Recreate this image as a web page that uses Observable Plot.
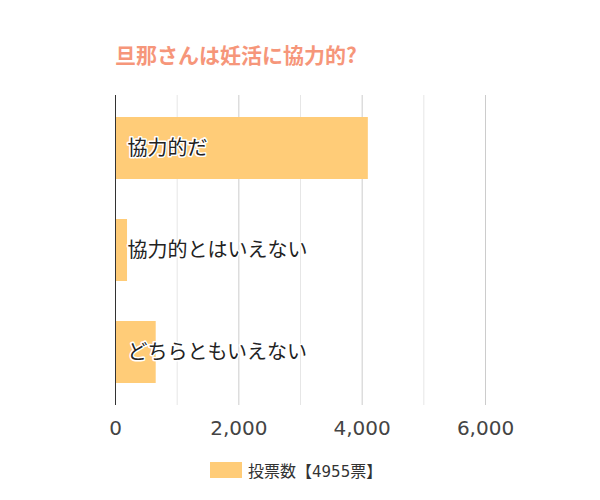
<!DOCTYPE html>
<html><head><meta charset="utf-8">
<script src="https://cdn.jsdelivr.net/npm/d3@7"></script>
<script src="https://cdn.jsdelivr.net/npm/@observablehq/plot@0.6"></script>
<style>
body{margin:0;background:#fff;font-family:"Noto Sans CJK JP",sans-serif;}
#wrap{position:relative;width:600px;height:500px;}
#chart{position:absolute;left:0;top:0;}
#title{position:absolute;left:115px;top:40px;font-size:21px;font-weight:bold;color:#f6967a;white-space:nowrap;line-height:28px;}
#legend{position:absolute;left:210px;top:458px;display:flex;align-items:center;font-size:16px;color:#333;white-space:nowrap;font-family:"Noto Sans CJK JP",sans-serif;}
#legend .sw{width:32px;height:16px;background:#ffcc78;margin-right:6px;}
#legend .num{font-family:"DejaVu Sans",sans-serif;font-size:15px;}
</style></head>
<body>
<div id="wrap">
  <div id="chart"></div>
  <div id="title">旦那さんは妊活に協力的?</div>
  <div id="legend"><span class="sw"></span><span>投票数【<span class="num">4955</span>票】</span></div>
</div>
<script>
const categories = ["協力的だ", "協力的とはいえない", "どちらともいえない"];
const values = [4100, 195, 660];
const xTicks = [0, 2000, 4000, 6000];
const minorTicks = [1000, 3000, 5000];
const majorTicks = [2000, 4000, 6000];

const data = categories.map((c, i) => ({cat: c, value: values[i]}));

const chart = Plot.plot({
  width: 600,
  height: 500,
  marginLeft: 115,
  marginRight: 115,
  marginTop: 95,
  marginBottom: 95,
  style: {fontFamily: "DejaVu Sans", fontSize: "20px", color: "#444", background: "transparent"},
  x: {domain: [0, 6000], ticks: xTicks, tickFormat: d3.format(","), tickSize: 0, tickPadding: 15, label: null},
  y: {domain: categories, axis: null, paddingInner: 0.39, paddingOuter: 0.2},
  marks: [
    Plot.ruleX(minorTicks, {stroke: "#e6e6e6", strokeWidth: 1}),
    Plot.ruleX(majorTicks, {stroke: "#cccccc", strokeWidth: 1}),
    Plot.barX(data, {x: "value", y: "cat", fill: "#ffcc78"}),
    Plot.ruleX([0], {stroke: "#333", strokeWidth: 1}),
    Plot.text(data, {x: 0, y: "cat", text: "cat", textAnchor: "start", dx: 12, fontSize: 20,
      fill: "#222", stroke: "white", strokeWidth: 3, paintOrder: "stroke", fontFamily: "Noto Sans CJK JP"})
  ]
});
document.getElementById("chart").appendChild(chart);
</script>
</body></html>
